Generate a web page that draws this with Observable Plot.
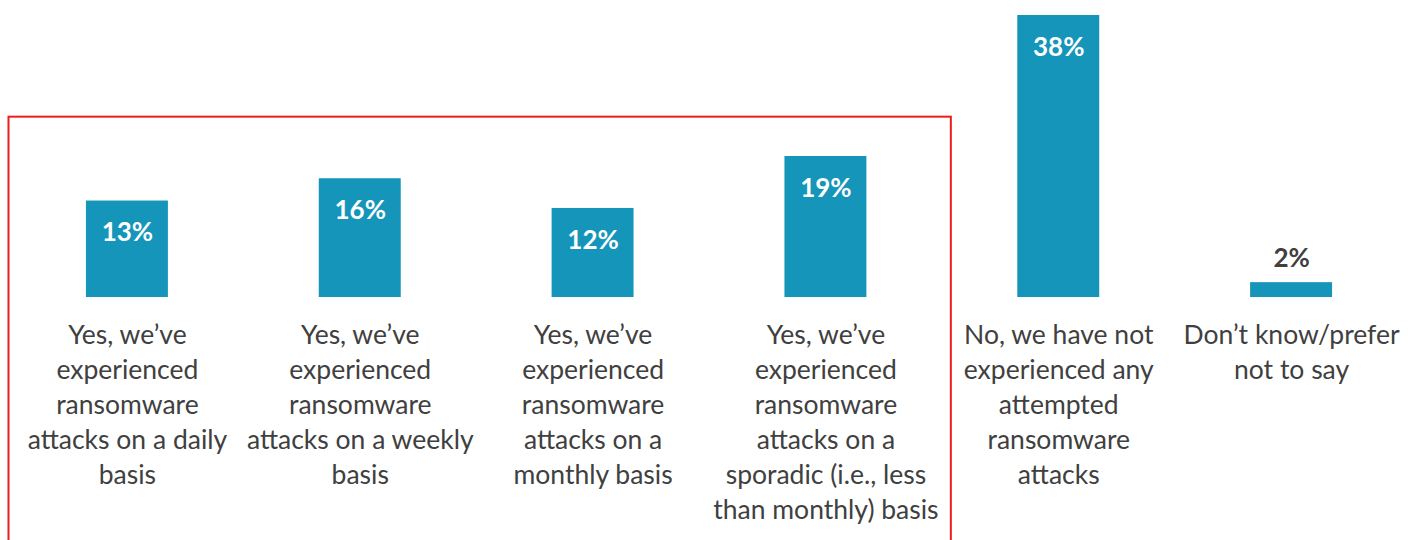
<!DOCTYPE html>
<html>
<head>
<meta charset="utf-8">
<script src="https://cdn.jsdelivr.net/npm/d3@7"></script>
<script src="https://cdn.jsdelivr.net/npm/@observablehq/plot@0.6"></script>
<style>
  html, body { margin: 0; padding: 0; background: #fff; }
  #chart { width: 1415px; height: 540px; overflow: hidden; }
</style>
</head>
<body>
<div id="chart"></div>
<script>
const categories = [
  "Yes, we’ve\nexperienced\nransomware\nattacks on a daily\nbasis",
  "Yes, we’ve\nexperienced\nransomware\nattacks on a weekly\nbasis",
  "Yes, we’ve\nexperienced\nransomware\nattacks on a\nmonthly basis",
  "Yes, we’ve\nexperienced\nransomware\nattacks on a\nsporadic (i.e., less\nthan monthly) basis",
  "No, we have not\nexperienced any\nattempted\nransomware\nattacks",
  "Don’t know/prefer\nnot to say"
];
const values = [13, 16, 12, 19, 38, 2];
const highlighted = categories.slice(0, 4);

const data = categories.map((c, i) => ({category: c, value: values[i]}));
const inside = data.filter(d => d.value >= 5);
const outside = data.filter(d => d.value < 5);

const font = "Lato, 'Open Sans', sans-serif";
const barColor = "#1595BA";
const textColor = "#404040";

const plot = Plot.plot({
  width: 1415,
  height: 540,
  margin: 0,
  style: {fontFamily: font, background: "#fff", overflow: "visible"},
  x: {domain: categories, range: [10.5, 1407.5], paddingInner: 0.648, paddingOuter: 0.324, round: false, axis: null},
  y: {domain: [0, 38], range: [297, 15], axis: null},
  marks: [
    Plot.barY(data, {x: "category", y: "value", fill: barColor}),
    Plot.ruleY([0], {x1: 10, x2: 1408, stroke: "#d9d9d9", strokeWidth: 2}),
    Plot.text(inside, {x: "category", y: "value", text: d => d.value + "%", dy: 32, fill: "#fff", fontWeight: "bold", fontSize: 26}),
    Plot.text(outside, {x: "category", y: "value", text: d => d.value + "%", dy: -24, fill: textColor, fontWeight: "bold", fontSize: 26}),
    Plot.text(data, {x: "category", y: () => 0, text: "category", lineAnchor: "top", dy: 22, lineHeight: 35 / 26.5, fill: textColor, fontSize: 26.5})
  ]
});

// red highlight frame around the first four categories, placed from the scales
const xs = plot.scale("x");
const ys = plot.scale("y");
const step = xs.bandwidth / (1 - 0.648);
const firstX = xs.apply(highlighted[0]);
const lastX = xs.apply(highlighted[highlighted.length - 1]) + xs.bandwidth;
const pad = (step - xs.bandwidth) / 2;
const svg = d3.select(plot);
svg.append("rect")
  .attr("x", firstX - pad - 2)
  .attr("y", ys.apply(24.3))
  .attr("width", (lastX + pad + 9) - (firstX - pad - 2))
  .attr("height", 600)
  .attr("fill", "none")
  .attr("stroke", "#ee1c1c")
  .attr("stroke-width", 2);

document.getElementById("chart").appendChild(plot);
</script>
</body>
</html>
